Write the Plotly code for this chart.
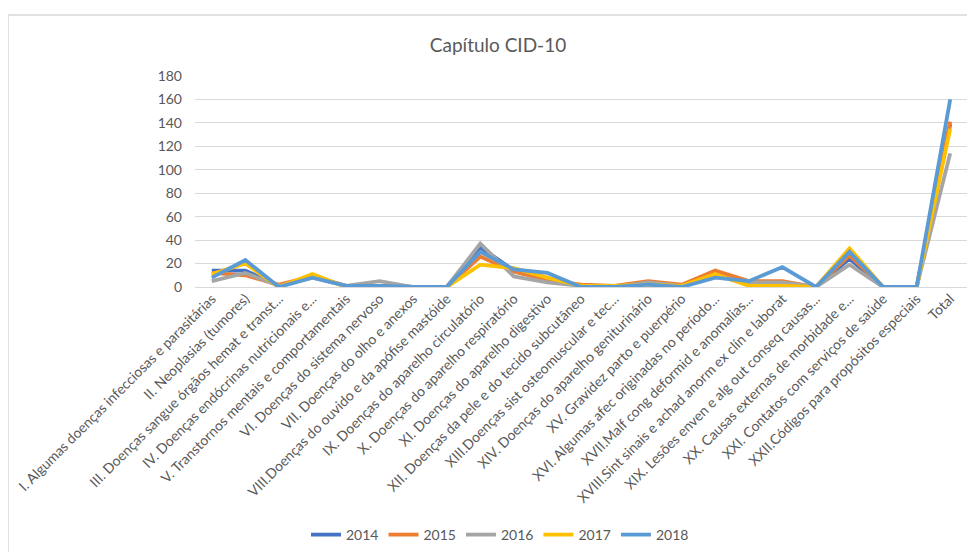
import plotly.graph_objects as go

categories = [
    "I. Algumas doenças infecciosas e parasitárias",
    "II. Neoplasias (tumores)",
    "III. Doenças sangue órgãos hemat e transt...",
    "IV. Doenças endócrinas nutricionais e...",
    "V. Transtornos mentais e comportamentais",
    "VI. Doenças do sistema nervoso",
    "VII. Doenças do olho e anexos",
    "VIII.Doenças do ouvido e da apófise mastóide",
    "IX. Doenças do aparelho circulatório",
    "X. Doenças do aparelho respiratório",
    "XI. Doenças do aparelho digestivo",
    "XII. Doenças da pele e do tecido subcutâneo",
    "XIII.Doenças sist osteomuscular e tec...",
    "XIV. Doenças do aparelho geniturinário",
    "XV. Gravidez parto e puerpério",
    "XVI. Algumas afec originadas no período...",
    "XVII.Malf cong deformid e anomalias...",
    "XVIII.Sint sinais e achad anorm ex clín e laborat",
    "XIX. Lesões enven e alg out conseq causas...",
    "XX. Causas externas de morbidade e...",
    "XXI. Contatos com serviços de saúde",
    "XXII.Códigos para propósitos especiais",
    "Total",
]

v2014 = [14, 14, 1, 9, 1, 1, 0, 0, 34, 14, 6, 1, 0, 3, 1, 12, 4, 3, 0, 24, 0, 0, 139]
v2015 = [12, 10, 2, 9, 1, 1, 0, 0, 26, 13, 6, 2, 1, 5, 2, 14, 5, 5, 0, 27, 0, 0, 141]
v2016 = [5, 12, 1, 8, 1, 5, 0, 0, 37, 9, 4, 1, 0, 4, 1, 9, 4, 4, 0, 19, 0, 0, 114]
v2017 = [11, 20, 0, 11, 0, 0, 0, 0, 19, 16, 8, 1, 1, 2, 1, 11, 1, 1, 0, 33, 0, 0, 135]
v2018 = [8, 23, 0, 8, 1, 1, 0, 0, 30, 15, 12, 0, 0, 2, 0, 8, 5, 17, 0, 30, 0, 0, 160]

years = ["2014", "2015", "2016", "2017", "2018"]
series = [v2014, v2015, v2016, v2017, v2018]
colors = ["#4472C4", "#ED7D31", "#A5A5A5", "#FFC000", "#5B9BD5"]
yticks = [0, 20, 40, 60, 80, 100, 120, 140, 160, 180]

fig = go.Figure()
for name, vals, col in zip(years, series, colors):
    fig.add_trace(go.Scatter(
        x=categories, y=vals, name=name, mode="lines",
        line=dict(color=col, width=3.8),
    ))

# page body has an 8px margin, so figure pixels = reference pixels - 8
W, H = 959, 544
ml, mr, mt, mb = 187, 0, 68, 265
pw = W - ml - mr
ph = H - mt - mb

def px_x(p):
    return (p - ml) / pw

def px_y(p):
    return (H - mb - p) / ph

fig.update_layout(
    width=W, height=H,
    margin=dict(l=ml, r=mr, t=mt, b=mb),
    paper_bgcolor="white", plot_bgcolor="white",
    font=dict(family="Lato, 'Open Sans', sans-serif", color="#595959", size=13),
    title=dict(text="Capítulo CID-10", x=px_x(490), xanchor="center", xref="paper",
               y=1 - 37 / H, yanchor="middle",
               font=dict(size=19, color="#595959")),
    showlegend=True,
    legend=dict(orientation="h", x=px_x(492), xanchor="center", xref="paper",
                y=px_y(527), yanchor="middle",
                font=dict(size=14, color="#595959")),
    xaxis=dict(
        type="category", tickangle=-45, showgrid=False, showline=False,
        ticks="", tickfont=dict(size=14, color="#595959"),
        automargin=False, range=[-0.5, len(categories) - 0.5],
    ),
    yaxis=dict(
        range=[0, 180], tickvals=yticks, showgrid=True, gridcolor="#D9D9D9",
        gridwidth=1, zeroline=True, zerolinecolor="#D9D9D9", zerolinewidth=1,
        showline=False, ticks="", tickfont=dict(size=14, color="#595959"),
        automargin=False, ticklabelstandoff=12,
    ),
    shapes=[dict(
        type="rect", xref="paper", yref="paper",
        x0=px_x(0), x1=px_x(1000), y0=px_y(7), y1=px_y(600),
        line=dict(color="#D9D9D9", width=1.5), fillcolor="rgba(0,0,0,0)",
        layer="below",
    )],
)

fig.write_html("out.html")
